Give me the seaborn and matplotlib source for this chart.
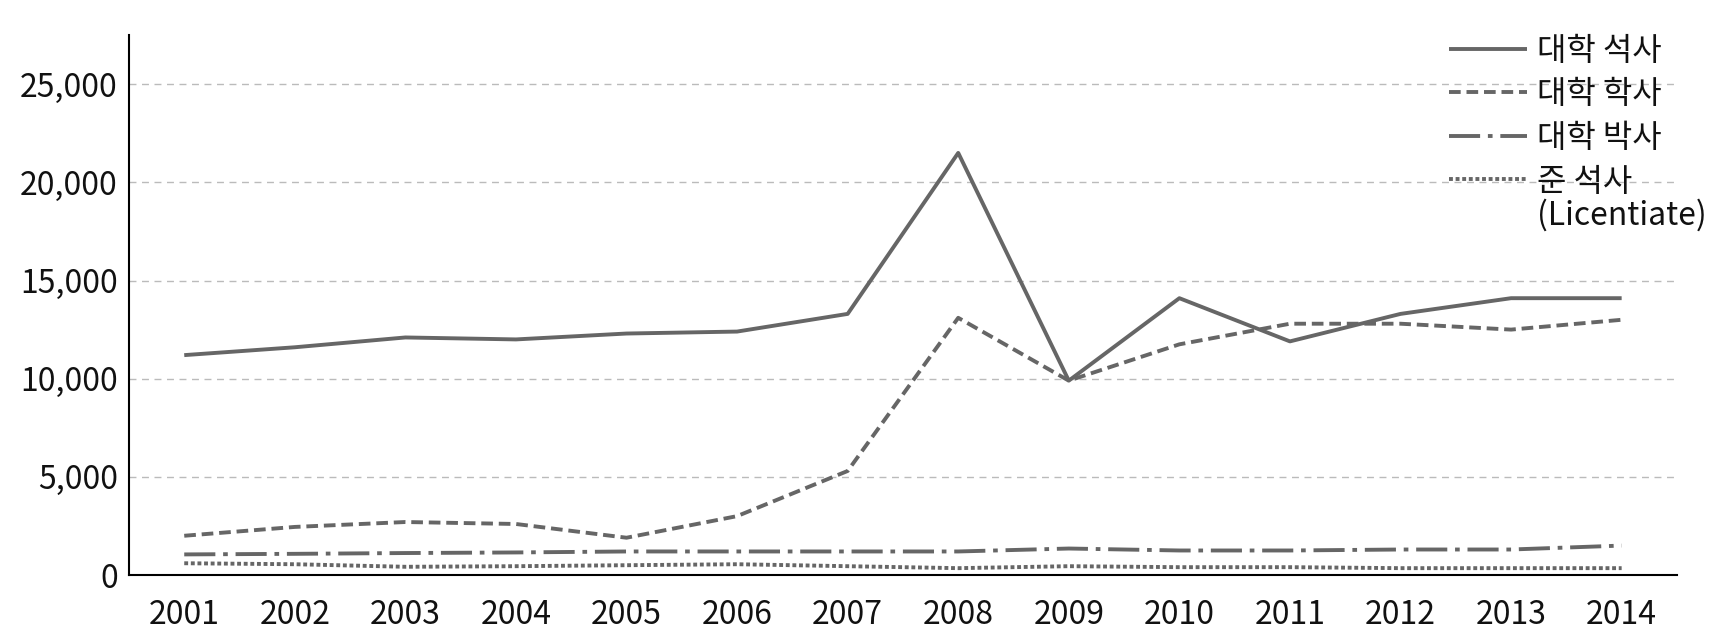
import matplotlib
matplotlib.use("Agg")
import matplotlib.pyplot as plt
import seaborn as sns
import pandas as pd
from matplotlib.ticker import FuncFormatter, FixedLocator

years = ["2001", "2002", "2003", "2004", "2005", "2006", "2007",
         "2008", "2009", "2010", "2011", "2012", "2013", "2014"]
master = [11200, 11600, 12100, 12000, 12300, 12400, 13300,
          21500, 9900, 14100, 11900, 13300, 14100, 14100]
bachelor = [2000, 2450, 2700, 2600, 1900, 3000, 5300,
            13100, 9900, 11750, 12800, 12800, 12500, 13000]
doctor = [1050, 1080, 1120, 1150, 1200, 1200, 1200,
          1200, 1350, 1250, 1250, 1300, 1300, 1500]
licentiate = [600, 550, 420, 450, 500, 550, 450,
              350, 450, 400, 400, 350, 350, 350]
labels = ["대학 석사", "대학 학사", "대학 박사", "준 석사"]
label_extra = "(Licentiate)"

sns.set_theme(style="white")
plt.rcParams['font.family'] = ['Noto Sans CJK KR', 'DejaVu Sans']

df = pd.DataFrame({"year": years, "x": range(len(years)),
                   labels[0]: master, labels[1]: bachelor,
                   labels[2]: doctor, labels[3]: licentiate})

fig = plt.figure(figsize=(17.24, 6.38), dpi=100)
ax = fig.add_axes([0.0748, 0.0987, 0.8979, 0.8463])

color = "#666666"
styles = [(0, ()), (0, (3.0, 1.5)), (0, (8, 2, 1.2, 2)), (0, (1, 0.7))]
for lab, ls in zip(labels, styles):
    sns.lineplot(data=df, x="x", y=lab, ax=ax, color=color, linewidth=2.8,
                 linestyle=ls, label=lab)
for line, ls in zip(ax.get_lines(), styles):
    line.set_linestyle(ls)

ax.set_xlim(-0.5, len(years) - 0.5)
ax.set_ylim(0, 27500)
ax.set_xlabel("")
ax.set_ylabel("")

ax.xaxis.set_major_locator(FixedLocator([i - 0.5 for i in range(len(years) + 1)]))
ax.xaxis.set_minor_locator(FixedLocator(list(range(len(years)))))
ax.set_xticklabels([], minor=False)
ax.set_xticklabels(years, minor=True)
ax.tick_params(axis="x", which="major", direction="in", length=10, width=1.5, color="black")
ax.tick_params(axis="x", which="minor", length=0, pad=17, labelsize=23, labelcolor="#111111")

ax.set_yticks([0, 5000, 10000, 15000, 20000, 25000])
ax.yaxis.set_major_formatter(FuncFormatter(lambda v, p: f"{int(v):,}"))
ax.tick_params(axis="y", direction="in", length=10, width=1.5, color="black",
               pad=8, labelsize=23, labelcolor="#111111")

for v in [5000, 10000, 15000, 20000, 25000]:
    ax.axhline(v, color="#bbbbbb", linestyle=(0, (5, 4)), linewidth=1, zorder=0)

for s in ["top", "right"]:
    ax.spines[s].set_visible(False)
for s in ["left", "bottom"]:
    ax.spines[s].set_color("black")
    ax.spines[s].set_linewidth(1.5)

leg = ax.legend(loc="upper left", bbox_to_anchor=(1449 / 1724, 1 - 35 / 638),
                bbox_transform=fig.transFigure, frameon=False, fontsize=23,
                handlelength=2.45, handletextpad=0.3, labelspacing=0.36,
                borderpad=0, borderaxespad=0)
for t in leg.get_texts():
    t.set_color("#111111")

fig.canvas.draw()
bb = leg.get_texts()[3].get_window_extent()
x0, y0 = fig.transFigure.inverted().transform((bb.x0, bb.y0))
fig.text(x0, y0 - 0.002, label_extra, fontsize=23, color="#111111",
         ha="left", va="top")

fig.savefig("out.png", dpi=100)
